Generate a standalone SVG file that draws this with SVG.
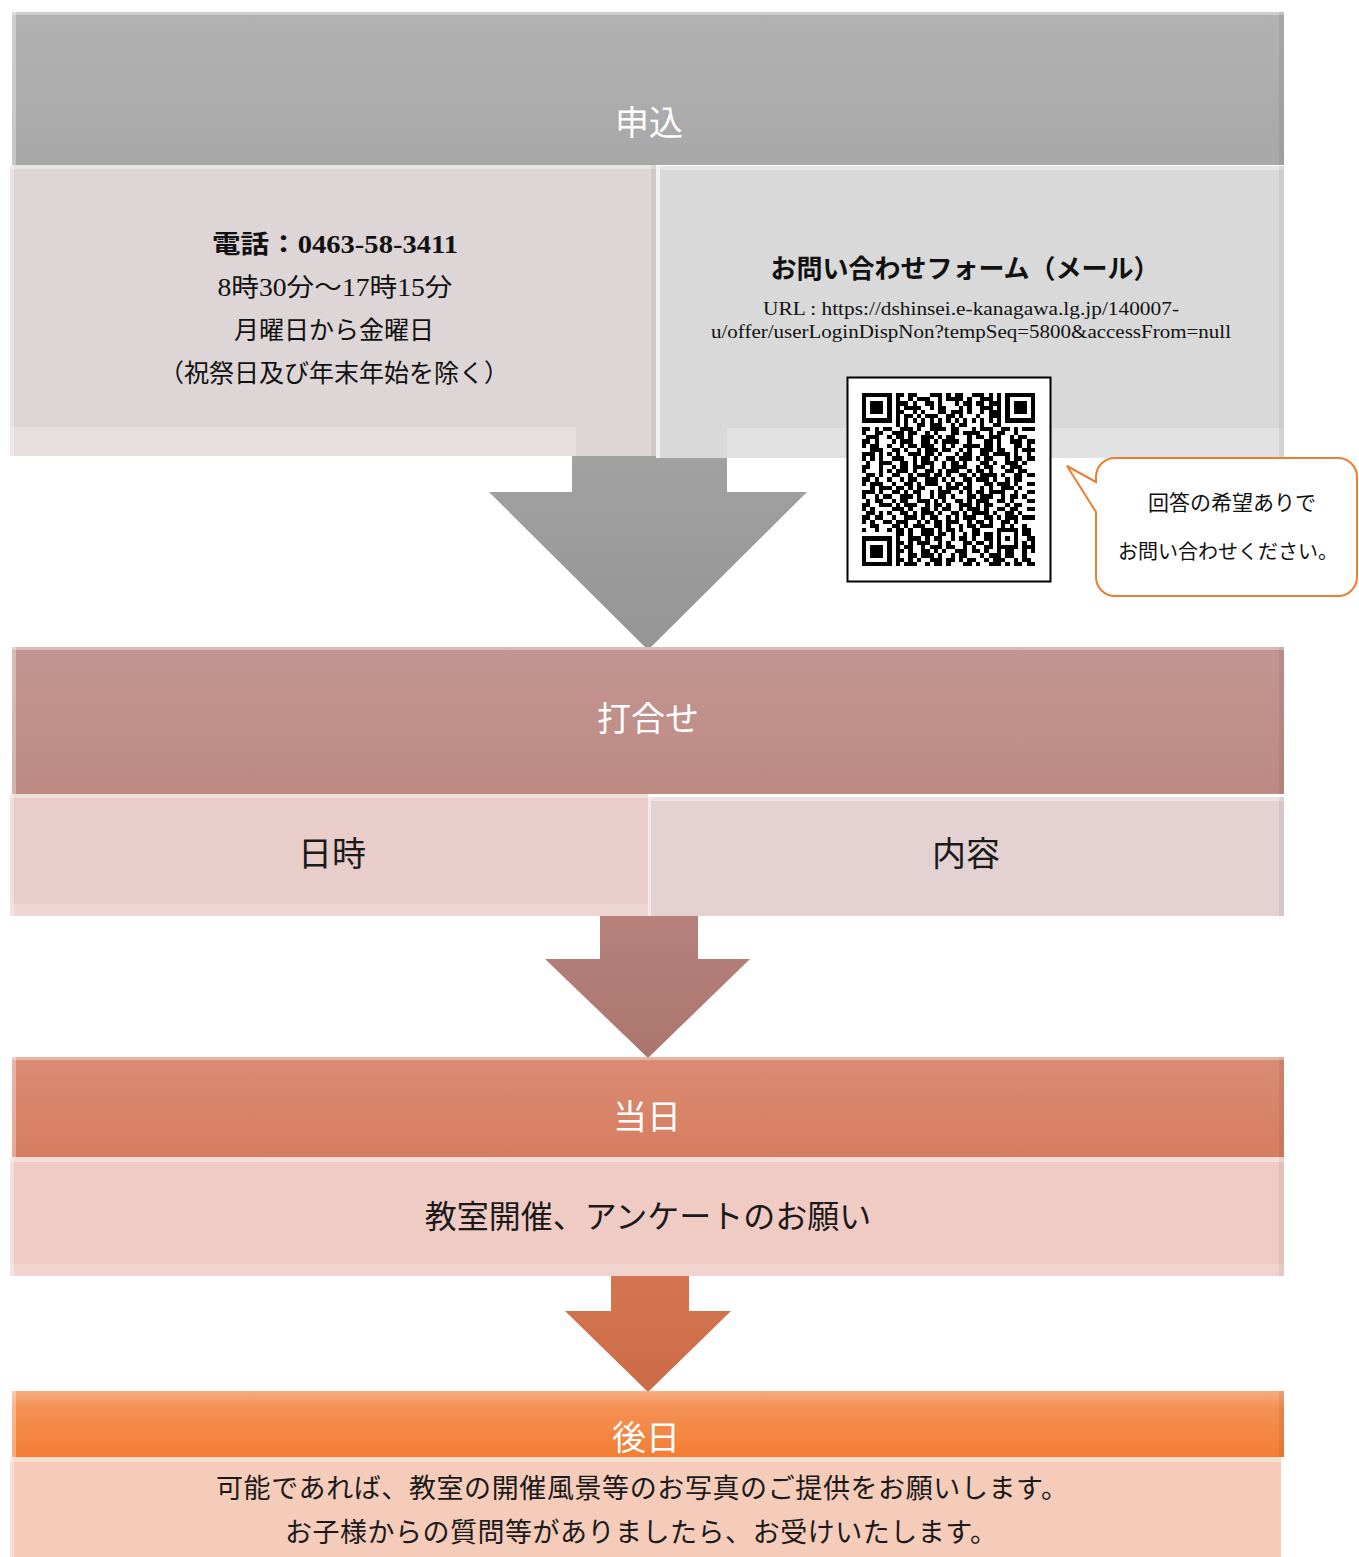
<svg xmlns="http://www.w3.org/2000/svg" width="1359" height="1557" viewBox="0 0 1359 1557">
<style>
.hd{font-family:"Noto Sans CJK JP","Noto Sans",sans-serif;font-size:34px;fill:#ffffff;text-anchor:middle}
.mj{font-family:"Liberation Serif","Noto Sans CJK JP",serif;fill:#111111;text-anchor:middle}
.gj{font-family:"Noto Sans CJK JP","Noto Sans",sans-serif;fill:#1a1a1a;text-anchor:middle}
.hl{fill:#ffffff;opacity:0.35}
.sh{fill:#000000;opacity:0.06}
.qr line{stroke:#000000;stroke-width:1}
</style>
<defs>
<linearGradient id="gGrey" x1="0" y1="0" x2="0" y2="1"><stop offset="0" stop-color="#b2b2b2"/><stop offset="1" stop-color="#a8a8a8"/></linearGradient>
<linearGradient id="gRose" x1="0" y1="0" x2="0" y2="1"><stop offset="0" stop-color="#c29690"/><stop offset="1" stop-color="#bd8a83"/></linearGradient>
<linearGradient id="gSalmon" x1="0" y1="0" x2="0" y2="1"><stop offset="0" stop-color="#da8c73"/><stop offset="1" stop-color="#d67d60"/></linearGradient>
<linearGradient id="gOrange" x1="0" y1="0" x2="0" y2="1"><stop offset="0" stop-color="#f6ad7d"/><stop offset="0.25" stop-color="#f49055"/><stop offset="1" stop-color="#f47d32"/></linearGradient>
<linearGradient id="gA1" x1="0" y1="0" x2="0" y2="1"><stop offset="0" stop-color="#a2a2a2"/><stop offset="1" stop-color="#959595"/></linearGradient>
<linearGradient id="gA2" x1="0" y1="0" x2="0" y2="1"><stop offset="0" stop-color="#b7827b"/><stop offset="1" stop-color="#aa766e"/></linearGradient>
<linearGradient id="gA3" x1="0" y1="0" x2="0" y2="1"><stop offset="0" stop-color="#d27651"/><stop offset="1" stop-color="#cd6b47"/></linearGradient>
</defs>

<g id="connectors">
<polygon points="572,450 727,450 727,492 807,492 648,650 489,492 572,492" fill="url(#gA1)"/>
<polygon points="600,912 698,912 698,959 750,959 648,1058 545,959 600,959" fill="url(#gA2)"/>
<polygon points="611,1272 689,1272 689,1311 731,1311 648,1392 565,1311 611,1311" fill="url(#gA3)"/>
</g>

<g id="node-moushikomi">
<rect x="12" y="12" width="1272" height="153" fill="url(#gGrey)"/>
<rect class="hl" x="12" y="12" width="1272" height="3"/>
<rect class="hl" x="12" y="12" width="4" height="153"/>
<rect class="sh" x="1279" y="12" width="5" height="153"/>
<text class="hd" x="649" y="135">申込</text>
</g>

<g id="node-phone">
<rect x="10" y="165" width="646" height="291" fill="#ded5d6"/>
<rect x="10" y="427" width="566" height="29" fill="#e6dedf"/>
<rect class="hl" x="10" y="165" width="646" height="4"/>
<rect class="hl" x="10" y="165" width="4" height="291"/>
<rect class="sh" x="651" y="165" width="5" height="291"/>
<text class="mj" x="335" y="253" font-size="25" font-weight="bold" textLength="246" lengthAdjust="spacingAndGlyphs">電話：0463-58-3411</text>
<text class="mj" x="335" y="296" font-size="25" textLength="235" lengthAdjust="spacingAndGlyphs">8時30分～17時15分</text>
<text class="mj" x="334" y="339" font-size="25">月曜日から金曜日</text>
<text class="mj" x="334" y="382" font-size="25">（祝祭日及び年末年始を除く）</text>
</g>

<g id="node-form">
<rect x="656" y="166" width="628" height="292" fill="#d9d9d9"/>
<rect x="727" y="428" width="557" height="30" fill="#e1e1e1"/>
<rect class="hl" x="656" y="166" width="628" height="4"/>
<rect x="656" y="166" width="4" height="292" fill="#f2f2f2"/>
<rect class="sh" x="1279" y="166" width="5" height="292"/>
<text class="mj" x="965" y="278" font-size="26" font-weight="bold">お問い合わせフォーム（メール）</text>
<text class="mj" x="971" y="315" font-size="19" textLength="416" lengthAdjust="spacingAndGlyphs">URL : https://dshinsei.e-kanagawa.lg.jp/140007-</text>
<text class="mj" x="971" y="338" font-size="19" textLength="520" lengthAdjust="spacingAndGlyphs">u/offer/userLoginDispNon?tempSeq=5800&amp;accessFrom=null</text>
</g>

<g id="node-qr">
<rect x="847.5" y="377.5" width="203" height="204" fill="#ffffff" stroke="#000000" stroke-width="2"/>
<g class="qr" transform="translate(862,393) scale(4.22)" shape-rendering="crispEdges">
<line x1="0" y1="0.5" x2="41" y2="0.5" stroke-dasharray="7 1 2 1 2 3 3 1 1 1 2 2 3 1 1 1 1 1 7"/>
<line x1="0" y1="1.5" x2="41" y2="1.5" stroke-dasharray="1 5 1 1 1 2 1 1 3 2 1 1 4 1 1 2 3 1 1 1 1 5 1"/>
<line x1="0" y1="2.5" x2="41" y2="2.5" stroke-dasharray="1 1 3 1 1 1 3 1 1 2 2 1 1 3 1 1 2 1 2 1 3 1 1 1 3 1 1"/>
<line x1="0" y1="3.5" x2="41" y2="3.5" stroke-dasharray="1 1 3 1 1 1 1 1 4 2 1 1 2 3 1 1 1 2 3 1 1 1 1 1 3 1 1"/>
<line x1="0" y1="4.5" x2="41" y2="4.5" stroke-dasharray="1 1 3 1 1 1 2 2 1 1 1 3 2 1 3 1 1 2 1 1 3 1 1 1 3 1 1"/>
<line x1="0" y1="5.5" x2="41" y2="5.5" stroke-dasharray="1 5 1 1 1 1 2 1 1 1 3 2 2 1 1 3 1 2 3 1 1 5 1"/>
<line x1="0" y1="6.5" x2="41" y2="6.5" stroke-dasharray="7 1 1 1 1 1 1 1 1 1 1 1 1 1 1 1 1 1 1 1 1 1 1 1 1 1 1 1 7"/>
<line x1="0" y1="7.5" x2="41" y2="7.5" stroke-dasharray="0 8 1 1 1 2 2 1 3 2 1 1 2 3 1 2 2 8"/>
<line x1="0" y1="8.5" x2="41" y2="8.5" stroke-dasharray="2 1 1 1 2 2 3 1 1 2 4 1 2 3 1 1 3 2 2 1 1 1 3"/>
<line x1="0" y1="9.5" x2="41" y2="9.5" stroke-dasharray="1 2 2 2 3 1 2 2 1 1 1 3 2 1 4 2 1 1 2 2 1 4"/>
<line x1="0" y1="10.5" x2="41" y2="10.5" stroke-dasharray="0 1 3 2 1 1 2 1 1 2 3 1 1 1 2 3 1 1 2 1 3 2 1 1 2 2"/>
<line x1="0" y1="11.5" x2="41" y2="11.5" stroke-dasharray="2 1 1 3 1 1 3 2 2 1 1 1 4 2 1 3 2 1 1 2 3 1 2"/>
<line x1="0" y1="12.5" x2="41" y2="12.5" stroke-dasharray="1 1 2 2 1 2 1 1 2 1 3 2 1 1 1 2 4 1 2 1 1 3 2 1 1 1"/>
<line x1="0" y1="13.5" x2="41" y2="13.5" stroke-dasharray="0 2 3 2 2 1 1 2 1 1 3 1 2 2 1 1 1 2 3 1 2 2 1 1 3"/>
<line x1="0" y1="14.5" x2="41" y2="14.5" stroke-dasharray="3 1 1 1 1 1 1 2 3 1 2 1 1 3 1 1 2 2 2 1 4 1 1 2 1 1"/>
<line x1="0" y1="15.5" x2="41" y2="15.5" stroke-dasharray="1 1 1 1 1 2 3 2 1 1 2 1 1 2 2 1 3 1 1 1 2 3 1 1 2 1 2"/>
<line x1="0" y1="16.5" x2="41" y2="16.5" stroke-dasharray="0 1 1 2 3 2 2 1 1 1 3 2 1 1 2 1 1 3 2 1 1 2 3 1 1 2"/>
<line x1="0" y1="17.5" x2="41" y2="17.5" stroke-dasharray="2 2 1 2 1 1 2 1 3 1 1 2 1 1 4 2 1 1 2 2 1 1 3 3"/>
<line x1="0" y1="18.5" x2="41" y2="18.5" stroke-dasharray="1 3 1 1 1 1 3 1 1 2 2 1 1 1 3 2 1 1 2 1 1 3 2 1 2 2"/>
<line x1="0" y1="19.5" x2="41" y2="19.5" stroke-dasharray="0 1 2 1 1 2 2 2 1 1 3 1 2 1 1 2 2 1 1 1 4 1 1 2 2 1 2"/>
<line x1="0" y1="20.5" x2="41" y2="20.5" stroke-dasharray="2 1 1 2 1 2 1 1 2 2 3 1 1 1 1 2 2 1 3 1 1 2 1 1 2 3"/>
<line x1="0" y1="21.5" x2="41" y2="21.5" stroke-dasharray="1 1 3 2 1 2 2 1 1 1 3 2 1 1 2 1 1 3 2 1 3 1 1 2 2"/>
<line x1="0" y1="22.5" x2="41" y2="22.5" stroke-dasharray="0 2 1 1 3 1 2 1 1 1 2 3 1 1 3 1 2 2 1 1 1 2 3 1 1 3"/>
<line x1="0" y1="23.5" x2="41" y2="23.5" stroke-dasharray="3 1 1 2 2 1 1 1 2 2 1 1 3 2 1 1 1 1 2 1 4 2 1 2 2"/>
<line x1="0" y1="24.5" x2="41" y2="24.5" stroke-dasharray="1 2 1 1 2 2 3 1 1 2 1 1 2 1 1 3 2 1 3 2 1 1 2 1 1 2"/>
<line x1="0" y1="25.5" x2="41" y2="25.5" stroke-dasharray="0 1 1 1 2 2 1 1 2 2 3 1 1 1 1 2 2 1 1 1 3 2 2 1 1 3 2"/>
<line x1="0" y1="26.5" x2="41" y2="26.5" stroke-dasharray="2 2 3 1 1 1 3 2 1 1 2 1 1 2 3 1 1 1 2 3 1 1 2 3"/>
<line x1="0" y1="27.5" x2="41" y2="27.5" stroke-dasharray="1 1 1 4 3 1 1 2 2 1 1 1 2 2 1 1 3 1 1 2 2 1 2 2 2"/>
<line x1="0" y1="28.5" x2="41" y2="28.5" stroke-dasharray="0 1 2 1 1 1 1 2 2 1 1 1 3 1 1 2 2 1 1 1 4 1 1 2 2 1 1 3"/>
<line x1="0" y1="29.5" x2="41" y2="29.5" stroke-dasharray="2 1 2 2 1 2 3 1 1 1 2 2 1 1 1 1 3 2 2 1 1 1 3 1 3"/>
<line x1="0" y1="30.5" x2="41" y2="30.5" stroke-dasharray="1 1 1 2 2 1 3 2 1 1 1 1 2 1 3 2 1 1 2 1 1 2 2 1 1 4"/>
<line x1="0" y1="31.5" x2="41" y2="31.5" stroke-dasharray="0 2 2 3 2 1 1 1 3 2 2 1 1 2 1 1 2 1 3 2 1 1 1 2 1 2"/>
<line x1="0" y1="32.5" x2="41" y2="32.5" stroke-dasharray="1 2 1 2 1 1 2 1 1 2 3 1 1 1 2 1 1 2 2 4 5 1 2 1"/>
<line x1="0" y1="33.5" x2="41" y2="33.5" stroke-dasharray="0 8 2 1 1 2 3 1 2 1 1 2 1 1 2 1 2 1 1 3 1 1 2 1"/>
<line x1="0" y1="34.5" x2="41" y2="34.5" stroke-dasharray="7 1 1 2 3 1 1 1 2 2 1 1 2 1 1 2 2 1 1 1 1 1 1 2 2"/>
<line x1="0" y1="35.5" x2="41" y2="35.5" stroke-dasharray="1 5 1 1 2 1 1 1 3 2 1 1 1 3 2 1 2 1 1 1 1 3 1 1 1 1 1"/>
<line x1="0" y1="36.5" x2="41" y2="36.5" stroke-dasharray="1 1 3 1 1 1 1 1 2 2 1 1 3 1 2 2 1 1 1 2 2 1 5 1 3"/>
<line x1="0" y1="37.5" x2="41" y2="37.5" stroke-dasharray="1 1 3 1 1 1 2 1 1 2 2 1 1 1 1 2 3 1 2 1 1 2 1 1 2 2 1 1 1"/>
<line x1="0" y1="38.5" x2="41" y2="38.5" stroke-dasharray="1 1 3 1 1 1 1 2 2 1 3 1 1 2 1 1 2 3 1 1 3 1 2 2 1 2"/>
<line x1="0" y1="39.5" x2="41" y2="39.5" stroke-dasharray="1 5 1 1 2 1 1 1 1 2 3 1 2 1 1 1 2 2 1 1 3 2 1 1 2 1"/>
<line x1="0" y1="40.5" x2="41" y2="40.5" stroke-dasharray="7 1 1 1 3 2 1 1 2 1 1 3 2 1 1 2 3 1 1 1 2 1 2"/>
</g>
</g>

<g id="node-callout">
<path d="M1115,458 H1338 A19,19 0 0 1 1357,477 V577 A19,19 0 0 1 1338,596 H1115 A19,19 0 0 1 1096,577 V512 L1067,466 L1096,482 V477 A19,19 0 0 1 1115,458 Z" fill="#ffffff" stroke="#ed7d31" stroke-width="2"/>
<text class="mj" x="1232" y="510" font-size="21">回答の希望ありで</text>
<text class="mj" x="1228" y="559" font-size="20">お問い合わせください。</text>
</g>

<g id="node-uchiawase">
<rect x="12" y="647" width="1272" height="147" fill="url(#gRose)"/>
<rect class="hl" x="12" y="647" width="1272" height="3"/>
<rect class="hl" x="12" y="647" width="4" height="147"/>
<rect class="sh" x="1279" y="647" width="5" height="147"/>
<text class="hd" x="648" y="731" font-size="35">打合せ</text>
</g>

<g id="node-nichiji">
<rect x="10" y="794" width="638" height="122" fill="#e9cdca"/>
<rect class="hl" x="10" y="794" width="638" height="4"/>
<rect class="hl" x="10" y="794" width="4" height="122"/>
<rect x="10" y="904" width="638" height="12" fill="#ffffff" opacity="0.18"/>
<text class="gj" x="332" y="866" font-size="34">日時</text>
</g>

<g id="node-naiyou">
<rect x="648" y="797" width="636" height="119" fill="#e3d2d1"/>
<rect class="hl" x="648" y="797" width="636" height="4"/>
<rect x="648" y="797" width="3" height="119" fill="#f3e9e8"/>
<rect class="sh" x="1279" y="797" width="5" height="119"/>
<text class="gj" x="966" y="866" font-size="34">内容</text>
</g>

<g id="node-touday">
<rect x="12" y="1057" width="1272" height="100" fill="url(#gSalmon)"/>
<rect class="hl" x="12" y="1057" width="1272" height="3"/>
<rect class="hl" x="12" y="1057" width="4" height="100"/>
<rect class="sh" x="1279" y="1057" width="5" height="100"/>
<text class="hd" x="647" y="1129">当日</text>
</g>

<g id="node-kyoushitsu">
<rect x="10" y="1157" width="1274" height="119" fill="#f0cbc4"/>
<rect class="hl" x="10" y="1157" width="1274" height="5"/>
<rect class="hl" x="10" y="1157" width="4" height="119"/>
<rect x="10" y="1264" width="1274" height="12" fill="#ffffff" opacity="0.18"/>
<rect class="sh" x="1279" y="1157" width="5" height="119"/>
<text class="gj" x="648" y="1228" font-size="32">教室開催、アンケートのお願い</text>
</g>

<g id="node-gojitsu">
<rect x="12" y="1391" width="1272" height="66" fill="url(#gOrange)"/>
<rect class="hl" x="12" y="1391" width="4" height="66"/>
<rect class="sh" x="1279" y="1391" width="5" height="66"/>
<text class="hd" x="646" y="1450">後日</text>
</g>

<g id="node-teikyou">
<rect x="10" y="1457" width="1271" height="100" fill="#f5cbba"/>
<rect class="hl" x="10" y="1457" width="1271" height="5"/>
<rect class="hl" x="10" y="1457" width="4" height="100"/>
<text class="gj" x="642" y="1498" font-size="27" textLength="852" lengthAdjust="spacing">可能であれば、教室の開催風景等のお写真のご提供をお願いします。</text>
<text class="gj" x="641" y="1542" font-size="27" textLength="712" lengthAdjust="spacing">お子様からの質問等がありましたら、お受けいたします。</text>
</g>
</svg>
